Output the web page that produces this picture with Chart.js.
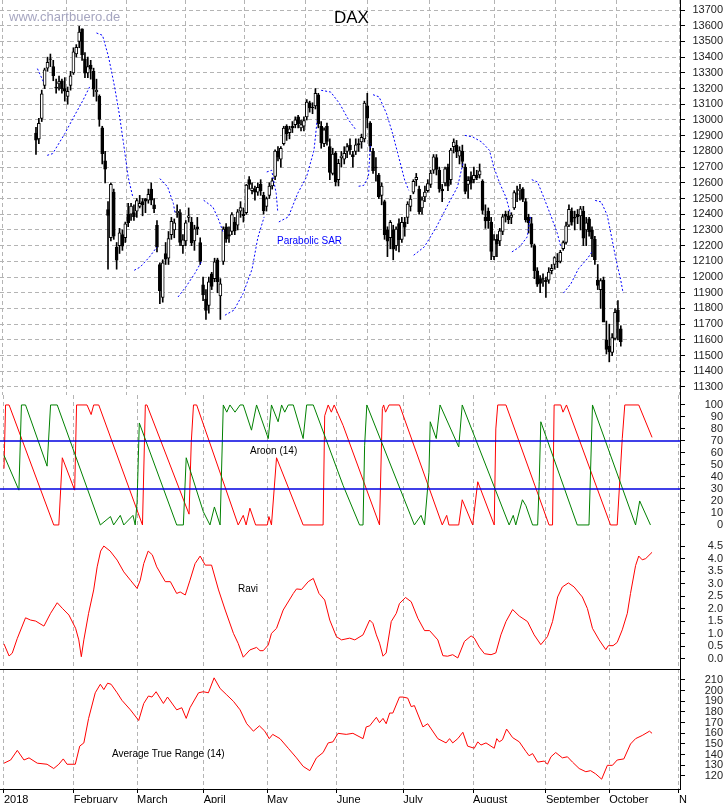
<!DOCTYPE html>
<html><head><meta charset="utf-8">
<script src="https://cdn.jsdelivr.net/npm/chart.js@4"></script>
<style>
body{margin:0;background:#fff;width:723px;height:803px;overflow:hidden;position:relative;font-family:"Liberation Sans",Arial,sans-serif}
canvas{position:absolute;left:0}
.t{position:absolute;white-space:nowrap}
.ln{position:absolute;background:#000}
</style></head><body>
<canvas id="cMain" width="723" height="395" style="top:0"></canvas>
<canvas id="cAroon" width="723" height="141" style="top:395px"></canvas>
<canvas id="cRavi" width="723" height="133" style="top:536px"></canvas>
<canvas id="cAtr" width="723" height="134" style="top:669px"></canvas>
<div class="ln" style="left:680px;top:0;width:1px;height:789px"></div>
<div class="ln" style="left:0;top:669px;width:681px;height:1px"></div>
<div class="ln" style="left:0;top:789px;width:681px;height:1px"></div>
<div class="t" style="left:9px;top:9px;font-size:13px;color:#a6a6c0">www.chartbuero.de</div>
<div class="t" style="left:334px;top:8px;font-size:17px;color:#000">DAX</div>
<div class="t" style="left:277px;top:235px;font-size:10px;color:#0000ff">Parabolic SAR</div>
<div class="t" style="left:250px;top:445px;font-size:10px;color:#000">Aroon (14)</div>
<div class="t" style="left:238px;top:583px;font-size:10px;color:#000">Ravi</div>
<div class="t" style="left:112px;top:748px;font-size:10px;color:#000">Average True Range (14)</div>
<script>
// ---- DAX daily candles, 2 Jan 2018 - 18 Oct 2018 ----
const opens = [
12917,12880,13010,13220,13330,13390,13340,13210,13230,13250,13200,13150,13220,13300,13420,13500,13580,13390,13300,13350,13310,13180,
13150,12950,12740,12430,12250,12540,12190,12200,12270,12250,12400,12400,12410,12420,12450,12480,12500,12490,12560,12460,
12330,12080,11870,12150,12120,12270,12300,12410,12410,12200,12230,12380,12350,12230,12320,12220,11950,11860,11820,12020,11990,
12110,11880,12100,12320,12270,12290,12350,12330,12420,12400,12410,12620,12550,12560,12540,12590,12520,12450,12520,12580,
12640,12800,12750,12850,12960,12920,12960,12970,13020,12950,12960,13020,13110,13080,13090,13160,12960,12850,12960,12830,12660,12790,
12620,12760,12750,12800,12840,12780,12800,12850,12860,12880,13090,12980,12800,12700,12650,12520,12480,12300,12250,12300,12200,
12340,12240,12350,12380,12450,12540,12620,12560,12440,12510,12550,12590,12680,12760,12680,12560,12600,12700,12620,12830,12840,12770,
12800,12700,12590,12640,12620,12650,12650,12610,12380,12420,12350,12130,12240,12230,12290,12400,12390,12380,12440,12530,12550,12560,12480,
12380,12340,12200,12040,11990,11990,11980,11980,12040,12080,12100,12100,12180,12220,12330,12420,12380,12400,12390,12420,
12300,12370,12300,12240,11980,11920,11980,11600,11560,11520,11610,11790,11670];
const highs = [
12953,13010,13190,13330,13400,13420,13380,13260,13280,13260,13270,13210,13310,13460,13480,13596,13580,13430,13400,13380,13330,13260,
13160,12960,12800,12480,12600,12560,12220,12310,12300,12350,12470,12470,12460,12500,12520,12500,12500,12560,12600,12500,
12360,12090,12110,12220,12290,12380,12370,12460,12430,12270,12360,12440,12380,12330,12380,12250,12000,11920,12000,12030,12120,
12120,11990,12320,12340,12320,12410,12380,12430,12480,12440,12590,12640,12600,12580,12600,12620,12540,12510,12600,12630,
12810,12830,12830,12960,12970,12960,12990,13020,13030,13000,13020,13130,13120,13110,13200,13170,12990,12950,12980,12880,12820,12800,
12750,12800,12830,12850,12880,12800,12880,12880,12910,13120,13170,12990,12820,12760,12660,12600,12490,12320,12360,12330,12320,
12370,12380,12380,12480,12520,12620,12660,12580,12510,12580,12620,12680,12780,12780,12700,12590,12700,12720,12820,12880,12870,12830,
12840,12720,12640,12670,12700,12680,12720,12620,12460,12440,12380,12270,12270,12310,12400,12420,12420,12410,12550,12580,12590,12570,12500,
12400,12380,12210,12060,12010,12020,12000,12060,12080,12130,12150,12170,12230,12350,12460,12440,12420,12430,12450,12450,
12380,12380,12320,12260,12080,11990,12000,11720,11700,11640,11800,11850,11690];
const lows = [
12780,12850,12990,13200,13310,13340,13250,13170,13190,13170,13120,13100,13190,13290,13400,13460,13380,13270,13270,13260,13150,13120,
12960,12720,12600,12050,12230,12240,12050,12150,12170,12220,12320,12360,12360,12380,12440,12390,12410,12470,12460,12410,
12160,11830,11840,12080,12080,12240,12250,12380,12200,12150,12200,12350,12200,12170,12270,12080,11850,11730,11770,11920,11970,
11900,11730,12080,12220,12220,12270,12270,12300,12380,12350,12400,12560,12530,12490,12520,12520,12400,12420,12500,12560,
12620,12740,12700,12840,12870,12880,12920,12950,12950,12930,12930,13000,13050,13040,13070,12950,12820,12830,12840,12620,12650,12580,
12580,12700,12720,12760,12780,12700,12780,12800,12820,12860,12950,12800,12660,12610,12500,12460,12240,12130,12180,12110,12170,
12160,12220,12260,12340,12420,12530,12580,12400,12400,12480,12540,12570,12660,12650,12540,12480,12580,12550,12590,12790,12760,12720,
12700,12530,12500,12560,12600,12620,12630,12400,12310,12310,12110,12110,12130,12200,12270,12350,12340,12340,12430,12480,12490,12480,12350,
12280,12190,11990,11940,11900,11940,11870,11960,12020,12050,12060,12090,12170,12210,12320,12330,12300,12340,12300,12200,
12200,12260,12130,12080,11920,11800,11720,11510,11460,11500,11600,11600,11560];
const closes = [
12871,12978,13167,13319,13367,13386,13282,13202,13245,13200,13184,13183,13281,13434,13463,13560,13414,13298,13340,13324,13197,13189,
13004,12785,12687,12392,12590,12260,12107,12282,12197,12339,12346,12452,12385,12487,12470,12461,12483,12527,12490,12436,
12190,11914,12091,12114,12245,12355,12346,12418,12221,12237,12345,12390,12217,12307,12308,12100,11886,11787,11970,11941,12097,
11970,11957,12305,12241,12261,12397,12293,12415,12442,12391,12586,12590,12567,12540,12572,12550,12422,12500,12580,12612,
12802,12763,12820,12948,12912,12943,12950,13001,12977,12970,12996,13114,13077,13078,13170,12977,12855,12938,12863,12666,12783,12605,
12724,12771,12787,12830,12811,12767,12842,12842,12890,13107,13011,12834,12677,12695,12512,12580,12270,12228,12348,12177,12306,
12238,12349,12318,12464,12497,12609,12635,12417,12492,12541,12595,12662,12765,12686,12561,12548,12689,12579,12809,12860,12798,12805,
12737,12546,12616,12598,12648,12633,12676,12424,12358,12358,12163,12237,12210,12295,12384,12386,12365,12394,12538,12527,12561,12494,12364,
12346,12210,12040,11955,11960,11986,11970,12032,12055,12124,12096,12158,12219,12326,12431,12350,12375,12385,12435,12247,
12346,12287,12244,12111,11947,11977,11712,11539,11523,11614,11776,11715,11589];

// month axis: gridline day positions and labels
const monthPos = [-0.5,21.5,41.5,62.5,82.5,104.5,125.5,147.5,170.5,190.5,212.5];
const monthLabels = ["2018","February","March","April","May","June","July","August","September","October","N"];
const priceTicks = [11300,11400,11500,11600,11700,11800,11900,12000,12100,12200,12300,12400,12500,12600,12700,12800,12900,13000,13100,13200,13300,13400,13500,13600,13700];
const aroonTicks = [0,10,20,30,40,50,60,70,80,90,100];
const raviTicks = [0,0.5,1,1.5,2,2.5,3,3.5,4,4.5];
const atrTicks = [120,130,140,150,160,170,180,190,200,210];

// Parabolic SAR readings [day, value], null = break between segments
const sarPoints = [
[0.5,13327],[2.6,13242],[3,null],
[3.9,12775],[5.8,12786],[10,12913],[13.1,13019],[16.3,13125],[18.9,13221],[19.5,null],
[21,13554],[23.1,13539],[25.2,13401],[27.3,13210],[28.9,13040],[30.4,12850],[32,12637],[33.6,12510],[33.9,null],
[34.1,12043],[36.2,12064],[39.4,12128],[42,12192],[42.5,null],
[43,12627],[45.7,12574],[47.7,12468],[48.3,12404],[48.8,null],
[49.3,11873],[52,11937],[55.1,12022],[57.7,12107],[58,null],
[58.2,12489],[61.4,12446],[63.5,12361],[65.1,12277],[65.4,null],
[65.6,11757],[68.7,11789],[71.9,11895],[75,12050],[77,12250],[79.2,12383],[79.6,null],
[80.1,12669],[81.8,12680],[83.4,12531],[83.9,12420],[84.1,null],
[84.3,12351],[87.6,12383],[90.8,12531],[93.9,12637],[96.5,12807],[97.6,12998],[98.3,null],
[99,13189],[102.3,13178],[105.4,13104],[108.6,12998],[111.2,12934],[111.6,null],
[112,12578],[113.8,12584],[115.4,12637],[116.1,12850],[116.5,null],
[117,13161],[119.1,13147],[121.7,13040],[123.8,12913],[125.9,12765],[128,12616],[129.4,12552],[130,null],
[131.1,12139],[134.8,12192],[139,12319],[143.2,12468],[146.3,12573],[148.2,12722],[148.5,null],
[148.9,12902],[151.6,12892],[154.7,12860],[157.4,12807],[158.9,12701],[161,12595],[163.1,12510],[164.7,12404],[165,null],
[165.2,12160],[167.8,12191],[170.5,12255],[171.7,12393],[171.9,null],
[172.1,12620],[174.1,12605],[176.2,12510],[178.9,12382],[181,12276],[182.2,12191],[182.6,null],
[183.1,11898],[185.7,11958],[188.3,12053],[191.4,12117],[193.3,12170],[193.7,null],
[194.1,12488],[196.2,12478],[198.3,12393],[199.8,12255],[201.4,12106],[203,11979],[203.8,11898]];

// Aroon (14) readings [day, value]
const aroonUp = [
[-0.5,58],[4.2,29],[5,100],[6.3,100],[13.1,49],[14.2,100],[16.3,100],[29.9,0],[33.1,7],[34.1,0],[36.2,8],[37.3,0],[40.2,8],[40.9,0],[41.5,19],[42.2,85],
[54,0],[56.1,0],[57,56],[62.4,11],[64.5,0],[65.9,15],[67.7,0],[68.7,100],[69.8,94],[70.8,100],[72.4,94],[74,100],[75,100],[77.6,79],[79.2,100],
[82.9,72],[83.9,100],[86,86],[87.1,100],[88.1,94],[89.2,100],[90.8,100],[93.9,72],[95,100],[97.1,100],[106.5,33],[111.7,0],[112.8,0],[113.3,66],[114,100],
[129,0],[131.1,8],[132.2,0],[133.6,44],[134,86],[135.9,72],[137.1,100],[143,65],[144.1,100],[158.9,0],[160.2,8],[161,0],[163.1,21],[164.2,16],[166.3,0],[167.9,0],
[168.4,36],[168.9,86],[180.4,0],[184.1,0],[185.2,100],[198.8,0],[200.1,20],[203.5,0]];
const aroonDown = [
[-0.5,47],[0,100],[1.1,100],[15.2,0],[16.8,0],[17.9,56],[21.8,29],[22.4,100],[25.7,100],[27,92],[27.8,100],[29.4,100],[43.2,0],[44.1,100],[44.6,100],
[57.9,9],[58.6,69],[59.3,100],[60.3,100],[73.4,0],[75,8],[75.9,0],[77.1,14],[78.9,0],[82.6,0],[83.1,7],[83.9,0],[85.5,56],[93.9,0],[100.2,0],[100.7,91],
[101.8,100],[102.8,94],[103.7,100],[106.5,83],[118,0],[118.9,97],[119.3,100],[119.9,94],[121,100],[124.3,100],[137.8,0],[139.2,8],[139.9,0],[143,0],
[144.1,21],[147.4,0],[149,36],[154.2,0],[154.7,80],[155.3,100],[157.9,100],[171.5,0],[172.6,0],[173.1,100],[175.2,100],[175.9,94],[177,100],
[190.9,0],[193,0],[194.6,72],[195.4,100],[199.8,100],[204,73]];
const aroonLevels = [70,30];

// Ravi readings [day, value]
const ravi = [
[-0.5,0.6],[1.1,0.12],[2.1,0.23],[3.7,0.82],[6.3,1.64],[7.9,1.55],[9.5,1.51],[12.1,1.31],[14.2,1.82],[16.3,2.24],[17.9,2.02],[20,1.75],[22.1,1.22],[23.1,0.76],
[23.9,0.09],[24.7,0.76],[26.2,1.82],[27.8,2.75],[28.9,3.67],[30,4.3],[31,4.5],[33,4.3],[35.2,3.94],[37.3,3.47],[39.4,3.14],[41.5,2.81],[42.5,3.14],[43.6,3.8],
[45,4.3],[46.3,4.15],[47.7,3.67],[50.4,3.08],[52,3.08],[54,2.61],[55.1,2.67],[56.7,2.55],[58.2,3.14],[59.8,3.8],[61.4,4.1],[63,3.74],[65,3.74],[67.2,2.75],
[69.3,1.95],[71.9,1.02],[73.4,0.62],[75,0.07],[77.1,0.36],[79.2,0.46],[80.3,0.33],[81.3,0.33],[82.9,0.56],[83.9,1.02],[85.5,1.22],[87.6,1.95],[90.8,2.61],
[91.8,2.79],[93.4,2.77],[95.5,3.08],[97.1,3.21],[98.9,2.61],[100.7,2.35],[102.3,1.55],[104.4,0.89],[106,0.76],[108.6,0.83],[110.2,0.76],[112.8,0.96],
[114.9,1.55],[115.9,1.42],[117,0.96],[118,0.63],[119.1,0.11],[120.1,0.24],[121.7,1.49],[123.3,1.82],[124.3,2.21],[126.2,2.45],[128,2.28],[130.1,1.62],
[132.2,1.13],[133.8,1.13],[136.4,0.76],[138,0.13],[139.5,0.11],[141.1,0.17],[142.7,0.04],[144.8,0.7],[146.9,0.92],[147.9,0.83],[149.5,0.47],[151.1,0.21],
[153.2,0.17],[154.7,0.24],[156.3,0.96],[157.9,1.49],[160,1.97],[162.1,1.71],[164.7,1.49],[166.8,0.96],[168.9,0.57],[171,0.89],[172.6,1.49],[174.2,2.47],
[175.7,2.87],[177.6,3.03],[179.4,2.87],[182,2.47],[183.6,2.01],[185.2,1.22],[187.3,0.76],[189.4,0.37],[190.2,0.53],[191.7,0.53],[193,0.66],[194.6,1.16],
[196.2,1.82],[197.2,2.61],[198.8,3.72],[199.8,4.1],[200.9,3.95],[202,4.0],[204,4.25]];

// Average True Range (14) readings [day, value]
const atr = [
[-0.5,132],[1.6,135],[3.7,144],[5.8,135],[7.4,137],[10,132],[13.1,131],[15.2,127],[16.8,131],[18.2,136],[19.4,131],[22,131],[23.4,148],[24.7,151],[26.2,174],
[28.3,198],[29.9,206],[31,201],[32.2,207],[33.3,206],[35.2,198],[36.7,191],[39.4,182],[42,172],[43.6,188],[45.1,195],[46.2,194],[47.5,199],[49.8,188],
[51.1,194],[54,182],[55.6,184],[57,174],[58.2,184],[60.9,198],[62.4,199],[64,198],[65.8,212],[67.7,202],[69.8,196],[71.9,190],[74,182],[76.1,169],[78.2,162],
[80.1,167],[81.8,162],[83.2,155],[84.3,159],[86.6,155],[89.2,146],[91.8,137],[93.9,129],[96,125],[98.1,137],[100.2,142],[101.8,151],[103.3,152],[104.9,160],
[107.5,159],[109.6,160],[112.8,155],[113.8,166],[114.9,167],[117,175],[118,170],[119.1,174],[120.1,169],[121.2,179],[122.2,179],[124.3,194],[125.4,194],
[126.9,193],[128,185],[129,186],[131.7,166],[133.2,169],[136.4,155],[139,151],[140.1,155],[141.1,151],[142.7,155],[144.3,161],[145.8,148],[147.9,146],
[149,152],[150,149],[151.6,151],[154.2,146],[155,155],[155.8,152],[156.8,154],[158.1,164],[160,156],[162.1,152],[164.2,143],[165.2,139],[166.3,141],
[167.9,133],[170,134],[171,131],[172.1,138],[173.6,142],[175.7,137],[177.3,138],[178.9,133],[181,127],[183.1,124],[184.6,125],[186.2,122],[188.1,117],
[189.9,130],[191.5,130],[193,135],[195.1,136],[197.2,150],[198.8,155],[200.9,158],[203.2,162],[204,160]];

// ---------- rendering ----------
const XMIN=-1.76, XMAX=212.82;
const FONT={family:'"Liberation Sans", Arial, sans-serif',size:11};
const pts = arr => arr.map(p=>({x:p[0],y:p[1]}));
function noPad(s){s.paddingTop=0;s.paddingBottom=0;s.paddingLeft=0;s.paddingRight=0;}
function xScale(showLabels){
  return {type:'linear',min:XMIN,max:XMAX,
    afterBuildTicks:s=>{s.ticks=monthPos.map(v=>({value:v}));},
    afterFit:s=>{s.height=showLabels?14:0;noPad(s);},
    ticks:{display:showLabels,autoSkip:false,maxRotation:0,align:'start',padding:0,color:'#000',font:FONT,
      callback:(v)=>{const k=monthPos.indexOf(v);return k>=0?monthLabels[k]:'';}},
    grid:{color:'#b4b4b4',drawTicks:showLabels,tickLength:4,tickColor:'#000',lineWidth:1},
    border:{display:false,dash:[4,3]}};
}
function yScale(min,max,ticks,fmt,grid){
  return {type:'linear',position:'right',min:min,max:max,
    afterBuildTicks:s=>{s.ticks=ticks.map(v=>({value:v}));},
    afterFit:s=>{s.width=43;noPad(s);},
    ticks:{color:'#222',font:FONT,autoSkip:false,crossAlign:'far',padding:2,callback:fmt},
    grid:{drawOnChartArea:!!grid,color:'#b4b4b4',tickColor:'#000',tickLength:5,drawTicks:true},
    border:{display:false,dash:grid?[4,3]:undefined}};
}
const base = {responsive:false,animation:false,devicePixelRatio:1,layout:{padding:0},
  plugins:{legend:{display:false},tooltip:{enabled:false}},events:[]};

// main candles
const wicks = closes.map((c,i)=>({x:i,y:[lows[i],highs[i]]}));
const bodies = closes.map((c,i)=>({x:i,y:[opens[i],c]}));
const bodyColors = closes.map((c,i)=> c>=opens[i] ? '#ffffff' : '#000000');
new Chart(document.getElementById('cMain'),{
  type:'bar',
  data:{datasets:[
    {type:'line',data:pts(sarPoints),borderColor:'#0000ff',borderWidth:1,borderDash:[2,2],pointRadius:0,spanGaps:false,order:0},
    {data:wicks,backgroundColor:'#000',barThickness:1,grouped:false,order:2},
    {data:bodies,backgroundColor:bodyColors,borderColor:'#000',borderWidth:1,borderSkipped:false,barThickness:3,grouped:false,order:1}
  ]},
  options:Object.assign({},base,{scales:{x:xScale(false),y:yScale(11249,13764,priceTicks,v=>String(v),true)}})
});
// Aroon
new Chart(document.getElementById('cAroon'),{
  type:'line',
  data:{datasets:[
    {data:[{x:XMIN,y:aroonLevels[0]},{x:XMAX,y:aroonLevels[0]}],borderColor:'#0000e0',borderWidth:1.5,pointRadius:0},
    {data:[{x:XMIN,y:aroonLevels[1]},{x:XMAX,y:aroonLevels[1]}],borderColor:'#0000e0',borderWidth:1.5,pointRadius:0},
    {data:pts(aroonUp),borderColor:'#008000',borderWidth:1,pointRadius:0},
    {data:pts(aroonDown),borderColor:'#ff0000',borderWidth:1,pointRadius:0}
  ]},
  options:Object.assign({},base,{scales:{x:xScale(false),y:yScale(-9.2,108.3,aroonTicks,v=>String(v),false)}})
});
// Ravi
new Chart(document.getElementById('cRavi'),{
  type:'line',
  data:{datasets:[{data:pts(ravi),borderColor:'#ff0000',borderWidth:1,pointRadius:0}]},
  options:Object.assign({},base,{scales:{x:xScale(false),y:yScale(-0.4,4.9,raviTicks,v=>Number(v).toFixed(1),false)}})
});
// ATR
new Chart(document.getElementById('cAtr'),{
  type:'line',
  data:{datasets:[{data:pts(atr),borderColor:'#ff0000',borderWidth:1,pointRadius:0}]},
  options:Object.assign({},base,{scales:{x:xScale(true),y:yScale(107.8,220.3,atrTicks,v=>String(v),false)}})
});
</script>
</body></html>
